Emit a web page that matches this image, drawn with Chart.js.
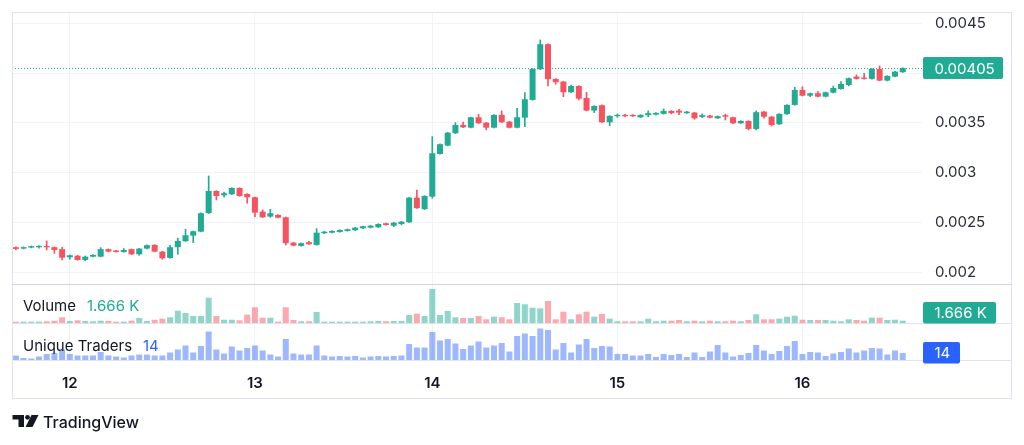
<!DOCTYPE html>
<html>
<head>
<meta charset="utf-8">
<script src="https://cdn.jsdelivr.net/npm/chart.js@4.4.1/dist/chart.umd.min.js"></script>
<style>
  html, body { margin: 0; padding: 0; background: #ffffff; }
  #wrap { width: 1024px; height: 445px; position: relative; }
</style>
</head>
<body>
<div id="wrap"><canvas id="chart" width="1024" height="445"></canvas></div>
<script>
// hourly candles, 11th 17:00 -> 16th 13:00 (one empty hour on the 13th)
const startDay = 11, startHour = 17, slotCount = 117;
const missingSlot = '13 19:00';
const padSlots = 2;

const opens = [0.002254, 0.00224, 0.00225, 0.002254, 0.002267, 0.002254, 0.002234, 0.002153, 0.002169, 0.002126,
  0.002159, 0.002159, 0.002234, 0.00222, 0.002206, 0.002234, 0.002183, 0.00224, 0.002277, 0.00221,
  0.002146, 0.002254, 0.002314, 0.00237, 0.00241, 0.002595, 0.002818, 0.002775, 0.002785, 0.002848,
  0.002788, 0.002755, 0.002611, 0.002561, 0.002578, 0.002554, 0.0023, 0.002267, 0.002304, 0.002277,
  0.002394, 0.0024, 0.002407, 0.002417, 0.002424, 0.002444, 0.00245, 0.002454, 0.002494, 0.00247,
  0.002487, 0.002504, 0.002751, 0.002635, 0.002761, 0.003189, 0.003273, 0.003397, 0.00348, 0.003453,
  0.003557, 0.003503, 0.003453, 0.003581, 0.003513, 0.003453, 0.003553, 0.003731, 0.004039, 0.00429,
  0.003942, 0.003915, 0.003808, 0.003871, 0.003751, 0.003624, 0.003678, 0.003507, 0.003568, 0.003581,
  0.003581, 0.003557, 0.003578, 0.003584, 0.003591, 0.003621, 0.003624, 0.003598, 0.003604, 0.003561,
  0.003574, 0.003547, 0.003578, 0.003557, 0.003497, 0.00352, 0.00344, 0.003614, 0.003563, 0.003487,
  0.003588, 0.003681, 0.003831, 0.003774, 0.003798, 0.003764, 0.003804, 0.003841, 0.003881, 0.003965,
  0.003955, 0.003942, 0.004042, 0.003925, 0.003965, 0.004009];

const closes = [0.002237, 0.002254, 0.002264, 0.002267, 0.002254, 0.002226, 0.002149, 0.002173, 0.002126, 0.002159,
  0.002176, 0.002234, 0.00221, 0.002206, 0.002226, 0.002183, 0.00224, 0.002274, 0.00221, 0.002143,
  0.002254, 0.002317, 0.002374, 0.002414, 0.002595, 0.002818, 0.002768, 0.002795, 0.002848, 0.002768,
  0.002755, 0.002601, 0.002554, 0.002595, 0.00255, 0.002294, 0.00227, 0.002294, 0.002284, 0.0024,
  0.00241, 0.002417, 0.002427, 0.002434, 0.00245, 0.002464, 0.00247, 0.002487, 0.002477, 0.0025,
  0.00251, 0.002751, 0.002645, 0.002768, 0.003196, 0.003287, 0.003403, 0.00348, 0.003457, 0.003557,
  0.003497, 0.003453, 0.003581, 0.003507, 0.003453, 0.003557, 0.003738, 0.004042, 0.00429, 0.003939,
  0.003909, 0.003808, 0.003871, 0.003744, 0.003624, 0.003671, 0.003507, 0.003571, 0.003581, 0.003568,
  0.003568, 0.003581, 0.003598, 0.003601, 0.003621, 0.003598, 0.003604, 0.003614, 0.003547, 0.003578,
  0.003553, 0.003568, 0.003563, 0.003497, 0.00352, 0.00344, 0.003608, 0.003563, 0.00348, 0.003591,
  0.003681, 0.003831, 0.003774, 0.003798, 0.003764, 0.003808, 0.003851, 0.003891, 0.003949, 0.003942,
  0.003942, 0.004042, 0.003925, 0.003972, 0.004015, 0.00405];

const highs = [0.002257, 0.002257, 0.002267, 0.00227, 0.002317, 0.002257, 0.002254, 0.002176, 0.002172, 0.002166,
  0.002179, 0.00225, 0.002237, 0.002223, 0.00224, 0.002237, 0.002243, 0.002277, 0.00228, 0.002213,
  0.002274, 0.002344, 0.002434, 0.002417, 0.002598, 0.002969, 0.002821, 0.002808, 0.002851, 0.002851,
  0.002791, 0.002758, 0.002628, 0.002635, 0.002581, 0.002557, 0.002303, 0.002297, 0.002314, 0.00244,
  0.002413, 0.00242, 0.00243, 0.002437, 0.002453, 0.002467, 0.002473, 0.00249, 0.002497, 0.002503,
  0.002513, 0.002754, 0.002828, 0.002771, 0.003363, 0.00329, 0.003406, 0.003503, 0.00351, 0.00356,
  0.003588, 0.003506, 0.003584, 0.003621, 0.003516, 0.003648, 0.003804, 0.004045, 0.004333, 0.004293,
  0.003945, 0.003918, 0.003881, 0.003874, 0.003808, 0.003674, 0.003681, 0.003574, 0.003591, 0.003587,
  0.003584, 0.003584, 0.003621, 0.003604, 0.003641, 0.003624, 0.003638, 0.003617, 0.003607, 0.003591,
  0.003577, 0.003571, 0.003588, 0.00356, 0.003523, 0.003523, 0.003621, 0.003617, 0.003566, 0.003594,
  0.003684, 0.003858, 0.003864, 0.003801, 0.003814, 0.003811, 0.003871, 0.003915, 0.003952, 0.003982,
  0.003999, 0.004045, 0.004072, 0.003975, 0.004018, 0.004054];

const lows = [0.002226, 0.002237, 0.002247, 0.002244, 0.002226, 0.002193, 0.002126, 0.002133, 0.002123, 0.002119,
  0.002156, 0.002156, 0.002207, 0.002203, 0.002203, 0.00218, 0.002173, 0.002237, 0.002207, 0.002133,
  0.002143, 0.002183, 0.002311, 0.0023, 0.002407, 0.002592, 0.002728, 0.002755, 0.002782, 0.002765,
  0.002695, 0.002561, 0.002551, 0.002554, 0.002547, 0.002277, 0.002267, 0.002264, 0.002281, 0.002274,
  0.002391, 0.002397, 0.002404, 0.002414, 0.002421, 0.002441, 0.002447, 0.002451, 0.002474, 0.00246,
  0.002477, 0.002501, 0.002642, 0.002632, 0.002745, 0.003186, 0.00327, 0.003394, 0.003454, 0.00345,
  0.003494, 0.00343, 0.00345, 0.003504, 0.00345, 0.00345, 0.003463, 0.003728, 0.004036, 0.003871,
  0.003888, 0.003764, 0.003805, 0.003731, 0.003621, 0.003604, 0.003504, 0.003473, 0.003557, 0.003562,
  0.003565, 0.003554, 0.003563, 0.003581, 0.003588, 0.003591, 0.003584, 0.003595, 0.003537, 0.003553,
  0.00355, 0.003544, 0.00353, 0.003494, 0.003494, 0.00343, 0.00343, 0.003547, 0.00347, 0.003484,
  0.003585, 0.003678, 0.003771, 0.003764, 0.003761, 0.003761, 0.003801, 0.003838, 0.003871, 0.003939,
  0.003939, 0.003939, 0.003922, 0.003922, 0.003962, 0.004006];

const volumes = [940, 940, 940, 940, 1230, 1670, 4130, 1450, 1950, 1450,
  1230, 1670, 1450, 940, 940, 1670, 3620, 1450, 2390, 3110,
  4130, 8900, 7240, 5070, 5070, 18320, 5070, 2390, 2390, 1950,
  6010, 11370, 3840, 3840, 940, 11370, 2170, 1230, 1230, 7960,
  940, 940, 940, 940, 940, 940, 1230, 1450, 1230, 1450,
  1450, 5790, 6730, 5070, 24620, 5790, 8690, 4130, 3620, 3620,
  5070, 2680, 4560, 4130, 2680, 14480, 13540, 11080, 10640, 15930,
  2680, 8180, 2680, 6300, 8180, 4560, 6520, 3110, 1230, 1230,
  1230, 1230, 3110, 1230, 1670, 1670, 2170, 1230, 1670, 1230,
  1670, 1230, 1230, 1670, 1230, 2170, 6300, 2680, 2680, 3110,
  4560, 5290, 2390, 2170, 2170, 2170, 1670, 1230, 2680, 2170,
  1670, 3840, 3840, 2170, 2390, 1666];

const traders = [9, 4, 3, 7, 12, 14, 21, 12, 9, 9,
  9, 16, 9, 7, 5, 9, 11, 11, 9, 9,
  15, 21, 29, 15, 28, 57, 21, 13, 27, 19,
  24, 29, 19, 11, 7, 42, 13, 11, 11, 29,
  9, 7, 8, 7, 8, 5, 7, 8, 7, 8,
  9, 32, 25, 25, 56, 39, 42, 33, 22, 29,
  37, 25, 29, 34, 17, 48, 53, 48, 63, 60,
  21, 34, 15, 31, 42, 24, 28, 27, 12, 12,
  9, 9, 12, 6, 12, 10, 12, 6, 15, 6,
  17, 30, 15, 7, 10, 14, 30, 19, 12, 18,
  28, 38, 12, 16, 15, 8, 13, 16, 23, 15,
  19, 24, 23, 11, 19, 14];

const priceTicks = [0.002, 0.0025, 0.003, 0.0035, 0.004, 0.0045];
const lastPrice = '0.00405';
const lastVolume = '1.666 K';
const lastTraders = '14';

// time labels
const labels = [];
for (let k = 0; k < slotCount; k++) {
  const h = startHour + k;
  const day = startDay + Math.floor(h / 24);
  const label = day + ' ' + String(h % 24).padStart(2, '0') + ':00';
  if (label !== missingSlot) labels.push(label);
}
for (let k = 0; k < padSlots; k++) labels.push('');

const UP = '#22ab94', DOWN = '#f7525f';
const isUp = opens.map((o, i) => closes[i] >= o);
const FONT = 'Inter, "Noto Sans", sans-serif';

function dayLabel(i) {
  const l = labels[i];
  return l && l.endsWith(' 00:00') ? l.split(' ')[0] : '';
}

const decor = {
  id: 'decor',
  beforeDatasetsDraw(chart) {
    const { ctx, chartArea } = chart;
    const y = Math.round(chart.scales.price.getPixelForValue(parseFloat(lastPrice))) + 0.5;
    ctx.save();
    ctx.strokeStyle = UP;
    ctx.lineWidth = 1;
    ctx.setLineDash([1, 2]);
    ctx.beginPath();
    ctx.moveTo(chartArea.left, y);
    ctx.lineTo(chartArea.right, y);
    ctx.stroke();
    ctx.restore();
  },
  afterDraw(chart) {
    const { ctx, chartArea } = chart;
    const pv = chart.scales.price, vv = chart.scales.vol;
    ctx.save();
    // frame and pane separators
    ctx.strokeStyle = '#e0e3eb';
    ctx.lineWidth = 1;
    ctx.strokeRect(12.5, 12.5, 999, 386);
    ctx.strokeStyle = '#d1d4dc';
    ctx.beginPath();
    ctx.moveTo(12, Math.round(pv.bottom) + 0.5);
    ctx.lineTo(1012, Math.round(pv.bottom) + 0.5);
    ctx.stroke();
    ctx.strokeStyle = '#e0e3eb';
    ctx.beginPath();
    ctx.moveTo(12, Math.round(vv.bottom) + 0.5);
    ctx.lineTo(1012, Math.round(vv.bottom) + 0.5);
    ctx.moveTo(12, Math.round(chartArea.bottom) + 0.5);
    ctx.lineTo(1012, Math.round(chartArea.bottom) + 0.5);
    ctx.stroke();

    // pane legends
    ctx.font = '15px ' + FONT;
    ctx.textBaseline = 'alphabetic';
    ctx.textAlign = 'left';
    ctx.fillStyle = '#131722';
    ctx.fillText('Volume', 23, 311);
    ctx.fillText('Unique Traders', 23, 350.5);
    ctx.fillStyle = UP;
    ctx.fillText(lastVolume, 87, 311);
    ctx.fillStyle = '#2962ff';
    ctx.fillText(lastTraders, 143, 350.5);

    // right-hand value boxes
    const box = (x, y, w, h, color, text, base) => {
      ctx.fillStyle = color;
      ctx.beginPath();
      ctx.roundRect(x, y, w, h, 2);
      ctx.fill();
      ctx.fillStyle = '#ffffff';
      ctx.fillText(text, x + 11.5, base);
    };
    box(923, 57, 80, 22, UP, lastPrice, 74);
    box(923, 302, 73, 21.5, UP, lastVolume, 317.5);
    box(923, 342, 37, 21.5, '#2962ff', lastTraders, 357.5);

    // TradingView mark
    ctx.fillStyle = '#131722';
    ctx.fillRect(12.5, 415, 11, 4.5);
    ctx.fillRect(18.5, 415, 5.5, 12);
    ctx.beginPath();
    ctx.arc(27.5, 417.3, 2.4, 0, Math.PI * 2);
    ctx.fill();
    ctx.beginPath();
    ctx.moveTo(31.5, 415);
    ctx.lineTo(38.5, 415);
    ctx.lineTo(32.5, 427);
    ctx.lineTo(25.5, 427);
    ctx.closePath();
    ctx.fill();
    ctx.font = '500 16px ' + FONT;
    ctx.fillText('TradingView', 43, 428.3);
    ctx.restore();
  }
};

// pin axis sizes so the panes line up with the picture
const fixWidth = s => {
  s.width = 90;
  s.paddingTop = 0;
  s.paddingBottom = 0;
};

new Chart(document.getElementById('chart'), {
  type: 'bar',
  data: {
    labels: labels,
    datasets: [
      {
        label: 'Body',
        data: opens.map((o, i) => [o, closes[i]]),
        backgroundColor: isUp.map(u => u ? UP : DOWN),
        yAxisID: 'price',
        grouped: false,
        minBarLength: 1,
        barPercentage: 0.78,
        categoryPercentage: 1
      },
      {
        label: 'Wick',
        data: lows.map((l, i) => [l, highs[i]]),
        backgroundColor: isUp.map(u => u ? UP : DOWN),
        yAxisID: 'price',
        grouped: false,
        barThickness: 1
      },
      {
        label: 'Volume',
        data: volumes,
        backgroundColor: isUp.map(u => u ? 'rgba(34,171,148,0.5)' : 'rgba(247,82,95,0.5)'),
        yAxisID: 'vol',
        grouped: false,
        barPercentage: 0.78,
        categoryPercentage: 1
      },
      {
        label: 'Unique Traders',
        data: traders,
        backgroundColor: 'rgba(41,98,255,0.45)',
        yAxisID: 'trd',
        grouped: false,
        barPercentage: 0.78,
        categoryPercentage: 1
      }
    ]
  },
  options: {
    responsive: false,
    animation: false,
    layout: { padding: { top: 12, left: 12, right: 12, bottom: 46 } },
    plugins: {
      legend: { display: false },
      tooltip: { enabled: false }
    },
    scales: {
      x: {
        type: 'category',
        offset: true,
        border: { display: false },
        grid: {
          offset: false,
          drawTicks: false,
          color: c => (c.tick && c.tick.label) ? '#f0f3fa' : 'rgba(0,0,0,0)'
        },
        ticks: {
          autoSkip: false,
          maxRotation: 0,
          padding: 14,
          color: '#131722',
          font: { family: FONT, size: 15, weight: 600 },
          callback: (v, i) => dayLabel(i)
        },
        afterFit: s => {
          s.height = 39;
          s.paddingLeft = 0;
          s.paddingRight = 0;
        }
      },
      price: {
        type: 'linear',
        position: 'right',
        stack: 'panes',
        stackWeight: 272,
        min: 0.001885,
        max: 0.004613,
        border: { display: false },
        grid: { color: '#f0f3fa', drawTicks: false },
        afterBuildTicks: s => { s.ticks = priceTicks.map(v => ({ value: v })); },
        ticks: {
          padding: 13,
          color: '#2a2e39',
          font: { family: FONT, size: 15 },
          callback: v => v === 0.004 ? '' : String(v)
        },
        afterFit: fixWidth
      },
      vol: {
        type: 'linear',
        position: 'right',
        stack: 'panes',
        stackWeight: 39,
        min: 0,
        max: 28240,
        border: { display: false },
        grid: { display: false },
        ticks: { display: false },
        afterFit: fixWidth
      },
      trd: {
        type: 'linear',
        position: 'right',
        stack: 'panes',
        stackWeight: 37,
        min: 0,
        max: 74,
        border: { display: false },
        grid: { display: false },
        ticks: { display: false },
        afterFit: fixWidth
      }
    }
  },
  plugins: [decor]
});
</script>
</body>
</html>
